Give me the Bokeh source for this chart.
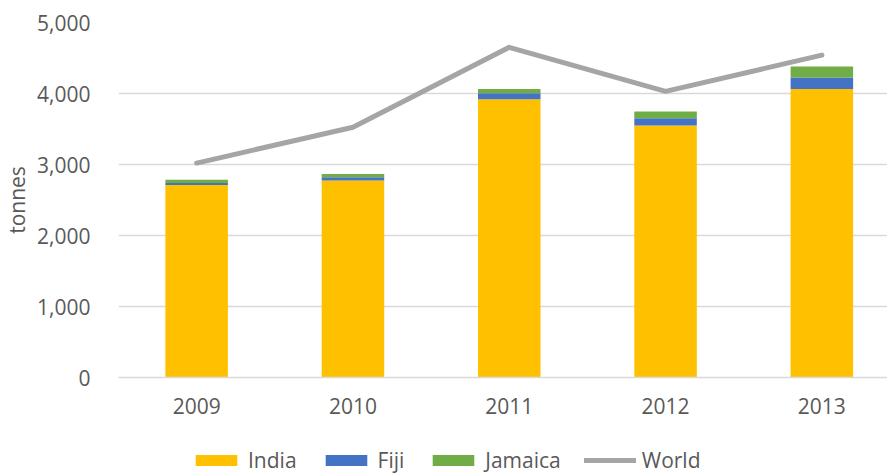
from bokeh.plotting import figure
from bokeh.layouts import column
from bokeh.models import Range1d, Legend, LegendItem, FixedTicker, NumeralTickFormatter
from bokeh.embed import file_html
from bokeh.resources import INLINE

years = ["2009", "2010", "2011", "2012", "2013"]
india = [2710, 2775, 3920, 3550, 4065]
fiji = [30, 45, 85, 100, 160]
jamaica = [45, 45, 60, 95, 155]
world = [3020, 3525, 4650, 4030, 4540]
series = ["India", "Fiji", "Jamaica"]
colors = ["#FFC000", "#4472C4", "#70AD47"]
world_color = "#A5A5A5"

xs = list(range(len(years)))
FONT = "Open Sans"
GREY = "#595959"
src = dict(x=xs, India=india, Fiji=fiji, Jamaica=jamaica)

p = figure(width=887, height=421, output_backend="svg", toolbar_location=None,
           x_range=Range1d(-0.5, 4.42), y_range=Range1d(0, 5000),
           min_border_left=118, min_border_top=22, min_border_right=0, min_border_bottom=44)
p.outline_line_color = None
p.xgrid.grid_line_color = None
p.ygrid.grid_line_color = "#D9D9D9"
p.ygrid.grid_line_width = 1.3

bars = p.vbar_stack(series, x="x", width=0.4, source=src, color=colors, line_color=None)
ln = p.line(xs, world, line_width=5, color=world_color, line_cap="round", line_join="round")

p.xaxis.ticker = FixedTicker(ticks=xs)
p.xaxis.major_label_overrides = {i: y for i, y in enumerate(years)}
p.xaxis.major_tick_line_color = None
p.xaxis.minor_tick_line_color = None
p.xaxis.axis_line_color = "#D9D9D9"
p.xaxis.axis_line_width = 1.3
p.xaxis.major_label_standoff = 14
p.xaxis.major_label_text_font = FONT
p.xaxis.major_label_text_font_size = "21px"
p.xaxis.major_label_text_color = GREY

p.yaxis.ticker = FixedTicker(ticks=[0, 1000, 2000, 3000, 4000, 5000])
p.yaxis.formatter = NumeralTickFormatter(format="0,0")
p.yaxis.major_tick_line_color = None
p.yaxis.minor_tick_line_color = None
p.yaxis.axis_line_color = None
p.yaxis.major_label_standoff = 22
p.yaxis.major_label_text_font = FONT
p.yaxis.major_label_text_font_size = "21px"
p.yaxis.major_label_text_color = GREY
p.yaxis.axis_label = "tonnes"
p.yaxis.axis_label_text_font = FONT
p.yaxis.axis_label_text_font_size = "21px"
p.yaxis.axis_label_text_font_style = "normal"
p.yaxis.axis_label_text_color = GREY
p.yaxis.axis_label_standoff = 3

# legend strip below the chart: same series drawn out of view, only their legend shows
q = figure(width=887, height=54, output_backend="svg", toolbar_location=None,
           x_axis_type=None, y_axis_type=None, x_range=Range1d(-0.5, 4.42),
           y_range=Range1d(6000, 7000), min_border=0)
q.outline_line_color = None
q.xgrid.grid_line_color = None
q.ygrid.grid_line_color = None
qbars = q.vbar_stack(series, x="x", width=0.4, source=src, color=colors, line_color=None)
qln = q.line(xs, world, line_width=5, color=world_color, line_cap="round")
items = [LegendItem(label=n, renderers=[r]) for n, r in zip(series, qbars)]
items.append(LegendItem(label="World", renderers=[qln]))
legend = Legend(items=items, orientation="horizontal", location=(72, 1),
                glyph_width=52, glyph_height=14, label_standoff=6, spacing=23,
                label_text_font=FONT, label_text_font_size="21px", label_text_color=GREY,
                border_line_color=None, background_fill_alpha=0, padding=0, margin=0)
q.add_layout(legend, "center")

open("out.html", "w").write(file_html(column(p, q, spacing=0), INLINE))
